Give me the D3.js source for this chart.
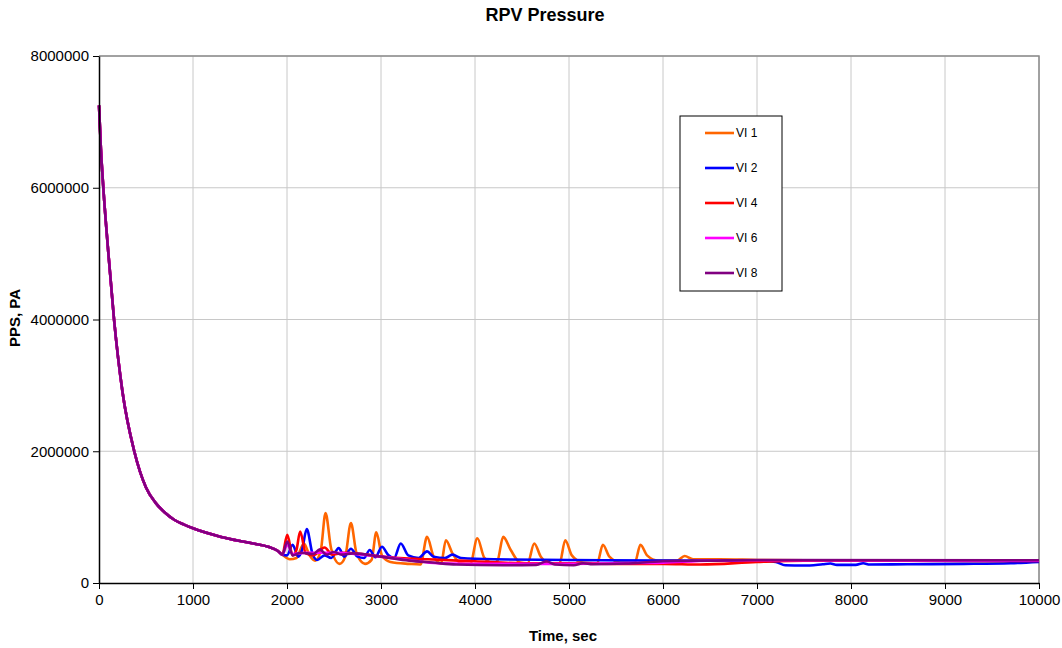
<!DOCTYPE html>
<html>
<head>
<meta charset="utf-8">
<script src="https://cdn.jsdelivr.net/npm/d3@7"></script>
<style>
  body { margin: 0; background: #fff; }
  svg { font-family: "Liberation Sans", Arial, sans-serif; }
</style>
</head>
<body>
<svg id="chart" width="1062" height="648"></svg>
<script>
(function () {
  'use strict';

  // shared blowdown, identical for every case up to ~1950 s
  const decay = [
    [0, 7250000], [20, 6600000], [46, 6000000], [100, 5000000], [160, 4000000],
    [250, 2900000], [375, 2000000], [500, 1450000], [600, 1220000], [700, 1070000],
    [800, 960000], [900, 890000], [1000, 830000], [1300, 700000], [1600, 610000],
    [1800, 550000], [1900, 490000]
  ];

  const vi1 = [
    [1950, 430000], [2030, 360000], [2100, 380000], [2180, 600000], [2240, 420000],
    [2300, 340000], [2360, 500000], [2410, 1060000], [2470, 520000], [2560, 290000],
    [2620, 400000], [2680, 910000], [2740, 450000], [2830, 290000], [2900, 350000],
    [2950, 770000], [3010, 420000], [3100, 320000], [3300, 290000], [3420, 280000],
    [3490, 700000], [3560, 400000], [3640, 300000], [3690, 650000], [3760, 450000],
    [3850, 300000], [3950, 290000], [4025, 680000], [4100, 380000], [4200, 300000],
    [4240, 340000], [4300, 700000], [4380, 500000], [4480, 310000], [4560, 300000],
    [4630, 600000], [4700, 400000], [4800, 300000], [4900, 300000], [4960, 650000],
    [5030, 420000], [5150, 310000], [5300, 300000], [5360, 580000], [5430, 400000],
    [5550, 310000], [5700, 310000], [5760, 580000], [5830, 420000], [5950, 340000],
    [6150, 340000], [6230, 410000], [6320, 360000], [6600, 360000], [7000, 350000],
    [8000, 340000], [9000, 335000], [10000, 330000]
  ];

  const vi2 = [
    [1950, 430000], [2000, 420000], [2060, 580000], [2120, 400000], [2160, 500000],
    [2210, 820000], [2270, 450000], [2320, 350000], [2400, 420000], [2470, 380000],
    [2550, 530000], [2610, 400000], [2680, 520000], [2750, 400000], [2820, 380000],
    [2880, 500000], [2940, 390000], [3010, 550000], [3080, 420000], [3140, 380000],
    [3210, 600000], [3290, 420000], [3400, 380000], [3490, 480000], [3560, 400000],
    [3680, 380000], [3760, 430000], [3850, 380000], [4200, 360000], [5000, 350000],
    [6000, 340000], [7000, 335000], [7200, 320000], [7300, 270000], [7500, 265000],
    [7700, 285000], [7780, 295000], [7850, 275000], [8050, 275000], [8130, 300000],
    [8200, 280000], [8600, 285000], [9200, 290000], [9700, 300000], [10000, 320000]
  ];

  const vi4 = [
    [1950, 430000], [2003, 730000], [2060, 420000], [2100, 500000], [2140, 780000],
    [2200, 450000], [2280, 420000], [2400, 540000], [2480, 430000], [2600, 460000],
    [2800, 440000], [3000, 400000], [3500, 360000], [4000, 330000], [4500, 300000],
    [5000, 300000], [5500, 290000], [6000, 290000], [6400, 280000], [7000, 320000],
    [7500, 340000], [10000, 335000]
  ];

  const vi6 = [
    [1950, 430000], [2003, 580000], [2060, 440000], [2200, 460000], [2500, 460000],
    [2800, 430000], [3000, 400000], [3300, 350000], [3600, 300000], [4200, 290000],
    [5000, 290000], [5500, 300000], [6000, 310000], [6500, 340000], [7000, 345000],
    [10000, 340000]
  ];

  const vi8 = [
    [1950, 430000], [2003, 630000], [2060, 420000], [2150, 460000], [2280, 440000],
    [2350, 510000], [2420, 430000], [2500, 470000], [2580, 430000], [2700, 450000],
    [3000, 400000], [3300, 340000], [3550, 310000], [3800, 280000], [4300, 270000],
    [4650, 275000], [4760, 330000], [4850, 280000], [5050, 270000], [5150, 300000],
    [5250, 285000], [5600, 295000], [6000, 330000], [6500, 340000], [7000, 350000],
    [10000, 345000]
  ];

  const seriesNames = ['VI 1', 'VI 2', 'VI 4', 'VI 6', 'VI 8'];
  const seriesColors = ['#ff6600', '#0000ff', '#ff0000', '#ff00ff', '#800080'];
  const seriesTail = [vi1, vi2, vi4, vi6, vi8];

  const xTicks = [0, 1000, 2000, 3000, 4000, 5000, 6000, 7000, 8000, 9000, 10000];
  const yTicks = [0, 2000000, 4000000, 6000000, 8000000];

  const svg = d3.select('#chart');
  const left = 99, right = 1039, top = 56, bottom = 583;

  const x = d3.scaleLinear().domain([0, 10000]).range([left, right]);
  const y = d3.scaleLinear().domain([0, 8000000]).range([bottom, top]);

  // gridlines
  svg.append('g').selectAll('line').data(xTicks.slice(1))
    .enter().append('line')
    .attr('x1', d => x(d)).attr('x2', d => x(d))
    .attr('y1', top).attr('y2', bottom)
    .attr('stroke', '#c8c8c8').attr('stroke-width', 1);
  svg.append('g').selectAll('line').data(yTicks.slice(1))
    .enter().append('line')
    .attr('x1', left).attr('x2', right)
    .attr('y1', d => y(d)).attr('y2', d => y(d))
    .attr('stroke', '#c8c8c8').attr('stroke-width', 1);

  // plot frame (top/right in grey)
  svg.append('path')
    .attr('d', `M${left},${top}H${right}V${bottom}`)
    .attr('fill', 'none').attr('stroke', '#8c8c8c').attr('stroke-width', 1.5);

  const line = d3.line()
    .x(d => x(d[0]))
    .y(d => y(d[1]))
    .curve(d3.curveMonotoneX);

  seriesTail.forEach((tail, i) => {
    svg.append('path')
      .datum(decay.concat(tail))
      .attr('d', line)
      .attr('fill', 'none')
      .attr('stroke', seriesColors[i])
      .attr('stroke-width', 2.6)
      .attr('stroke-linejoin', 'round');
  });

  // axes
  const xAxis = svg.append('g')
    .attr('transform', `translate(0,${bottom})`)
    .call(d3.axisBottom(x).tickValues(xTicks).tickFormat(d3.format('d')).tickSize(6).tickSizeOuter(0));
  const yAxis = svg.append('g')
    .attr('transform', `translate(${left},0)`)
    .call(d3.axisLeft(y).tickValues(yTicks).tickFormat(d3.format('d')).tickSize(6).tickSizeOuter(0));

  [xAxis, yAxis].forEach(ax => {
    ax.select('.domain').attr('stroke', '#000').attr('stroke-width', 1.5);
    ax.selectAll('.tick line').attr('stroke', '#000');
    ax.selectAll('.tick text')
      .attr('fill', '#000')
      .style('font-size', '15px')
      .style('font-family', '"Liberation Sans", Arial, sans-serif');
  });
  xAxis.selectAll('.tick text').attr('dy', '0.9em').attr('y', 8);
  yAxis.selectAll('.tick text').attr('x', -10);

  // titles
  svg.append('text')
    .attr('x', 545).attr('y', 21)
    .attr('text-anchor', 'middle')
    .style('font-size', '18px').style('font-weight', 'bold')
    .text('RPV Pressure');
  svg.append('text')
    .attr('x', 563).attr('y', 641)
    .attr('text-anchor', 'middle')
    .style('font-size', '15px').style('font-weight', 'bold')
    .text('Time, sec');
  svg.append('text')
    .attr('transform', 'translate(20,318) rotate(-90)')
    .attr('text-anchor', 'middle')
    .style('font-size', '15px').style('font-weight', 'bold')
    .text('PPS, PA');

  // legend
  const legend = svg.append('g').attr('transform', 'translate(680,116)');
  legend.append('rect')
    .attr('width', 102).attr('height', 175)
    .attr('fill', '#fff').attr('stroke', '#000').attr('stroke-width', 1);
  const items = legend.selectAll('g.item').data(seriesNames)
    .enter().append('g').classed('item', true)
    .attr('transform', (d, i) => `translate(0,${17 + i * 35})`);
  items.append('line')
    .attr('x1', 25).attr('x2', 54)
    .attr('stroke', (d, i) => seriesColors[i])
    .attr('stroke-width', 2.6);
  items.append('text')
    .attr('x', 56).attr('y', 4)
    .style('font-size', '12px')
    .text(d => d);
}());
</script>
</body>
</html>
